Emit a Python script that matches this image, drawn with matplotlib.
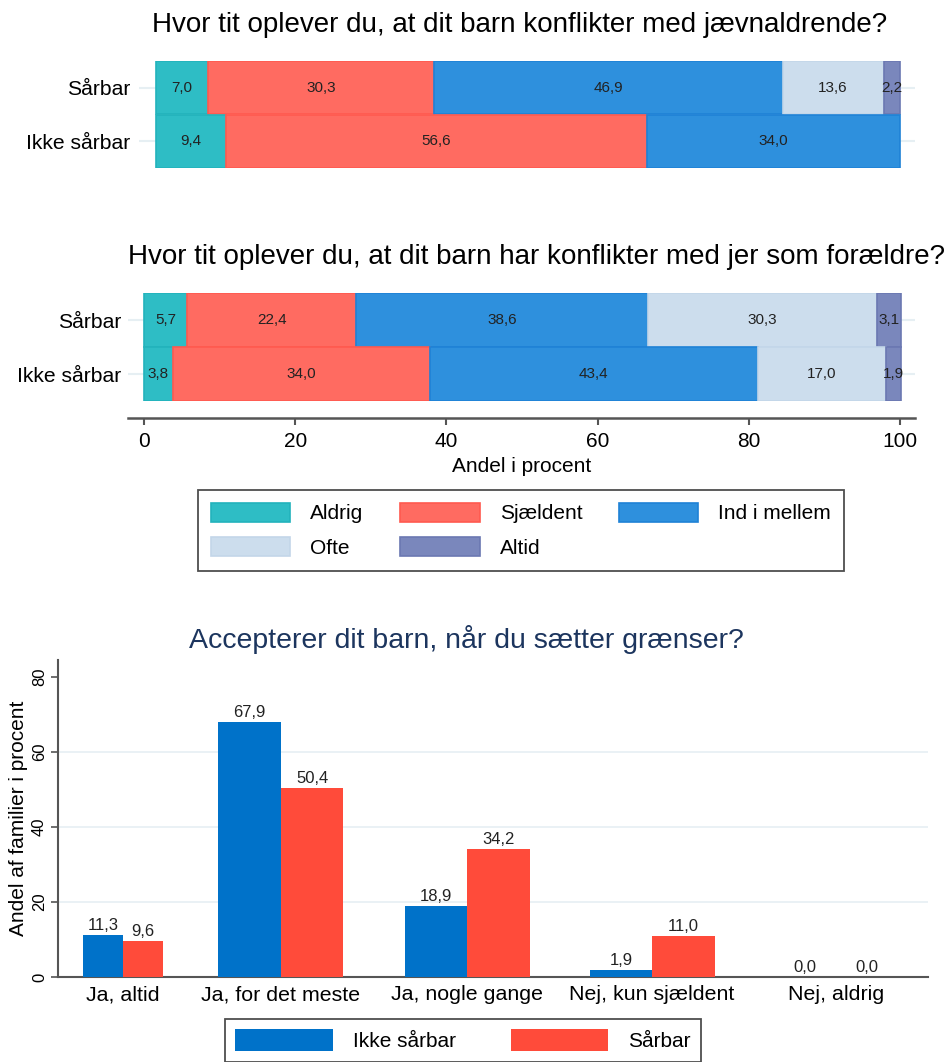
import matplotlib
matplotlib.use("Agg")
import matplotlib.pyplot as plt
import numpy as np

plt.rcParams['font.family'] = ['Liberation Sans', 'DejaVu Sans']

# ---------------- data ----------------
groups = ["Sårbar", "Ikke sårbar"]
categories = ["Aldrig", "Sjældent", "Ind i mellem", "Ofte", "Altid"]

title1 = "Hvor tit oplever du, at dit barn konflikter med jævnaldrende?"
p1_sarbar = [7.0, 30.3, 46.9, 13.6, 2.2]
p1_ikke = [9.4, 56.6, 34.0, 0.0, 0.0]

title2 = "Hvor tit oplever du, at dit barn har konflikter med jer som forældre?"
p2_sarbar = [5.7, 22.4, 38.6, 30.3, 3.1]
p2_ikke = [3.8, 34.0, 43.4, 17.0, 1.9]

title3 = "Accepterer dit barn, når du sætter grænser?"
answers = ["Ja, altid", "Ja, for det meste", "Ja, nogle gange", "Nej, kun sjældent", "Nej, aldrig"]
p3_ikke = [11.3, 67.9, 18.9, 1.9, 0.0]
p3_sarbar = [9.6, 50.4, 34.2, 11.0, 0.0]
p3_series = ["Ikke sårbar", "Sårbar"]

xticks2 = [0, 20, 40, 60, 80, 100]
yticks3 = [0, 20, 40, 60, 80]

# ---------------- style ----------------
fills = ["#2EBDC5", "#FF6B61", "#2E90DD", "#CCDDED", "#7A87BC"]
edges = ["#22B3BC", "#FF5A4F", "#1F82D6", "#C3D6E9", "#6B78B2"]
blue3 = "#0072C9"
red3 = "#FF4B3A"
grid_col = "#E6EFF3"
axis_col = "#555555"

W, H = 949, 1062
fig = plt.figure(figsize=(W / 100, H / 100), dpi=100)


def box(l, t, r, b):
    return [l / W, 1 - b / H, (r - l) / W, (b - t) / H]


def fmt(v):
    return f"{v:.1f}".replace(".", ",")


def stacked(ax, rows, xlim, pad):
    ypos = [1, 0]
    for yi, vals in zip(ypos, rows):
        left = 0.0
        for i, v in enumerate(vals):
            if v > 0:
                ax.barh(yi, v, left=left, height=0.99, color=fills[i],
                        edgecolor=edges[i], linewidth=1.2, zorder=3)
                ax.text(left + v / 2, yi, fmt(v), ha="center", va="center",
                        fontsize=11, color="#222222", zorder=4)
            left += v
    ax.set_xlim(*xlim)
    ax.set_ylim(-0.5, 1.5)
    ax.set_yticks(ypos)
    ax.set_yticklabels(groups, fontsize=15.2)
    ax.tick_params(axis="y", length=0, pad=pad)
    for yi in ypos:
        ax.axhline(yi, color=grid_col, lw=1.5, zorder=1)
    for s in ["top", "right", "left"]:
        ax.spines[s].set_visible(False)


# Panel 1
ax1 = fig.add_axes(box(139, 61, 915, 168))
stacked(ax1, [p1_sarbar, p1_ikke], (-2.3, 102.0), 6)
ax1.spines["bottom"].set_visible(False)
ax1.set_xticks([])
fig.text(520 / W, 1 - 25 / H, title1, ha="center", va="center", fontsize=20, color="black")

# Panel 2
ax2 = fig.add_axes(box(128, 293, 915, 401))
stacked(ax2, [p2_sarbar, p2_ikke], (-2.12, 102.0), 5)
ax2.spines["bottom"].set_position(("outward", 12.5))
ax2.spines["bottom"].set_color(axis_col)
ax2.spines["bottom"].set_linewidth(1.8)
ax2.set_xticks(xticks2)
ax2.set_xticklabels([str(t) for t in xticks2], fontsize=15)
ax2.tick_params(axis="x", length=5, width=1.5, color=axis_col, pad=5)
ax2.set_xlabel("Andel i procent", fontsize=15, labelpad=4)
fig.text(536 / W, 1 - 257 / H, title2, ha="center", va="center", fontsize=20, color="black")

handles = [plt.Rectangle((0, 0), 1, 1, facecolor=fills[i], edgecolor=edges[i], lw=1.2)
           for i in range(5)]
order = [0, 3, 1, 4, 2]
leg1 = fig.legend([handles[i] for i in order], [categories[i] for i in order],
                  loc="upper left", bbox_to_anchor=(198 / W, 1 - 490 / H),
                  ncol=3, fontsize=15, frameon=True, fancybox=False,
                  edgecolor="#222222", borderaxespad=0, borderpad=0.62,
                  handlelength=3.8, handleheight=1.0, handletextpad=0.96,
                  columnspacing=1.78, labelspacing=0.67)
leg1.get_frame().set_linewidth(1.3)

# Panel 3
ax3 = fig.add_axes(box(58, 660, 928, 977))
xpos = np.array([0.146, 1.0, 2.006, 3.006, 4.0])
widths = np.array([0.216, 0.338, 0.338, 0.338, 0.338])
b1 = ax3.bar(xpos - widths / 2, p3_ikke, width=widths, color=blue3, zorder=3,
             label=p3_series[0])
b2 = ax3.bar(xpos + widths / 2, p3_sarbar, width=widths, color=red3, zorder=3,
             label=p3_series[1])
for bars, vals in [(b1, p3_ikke), (b2, p3_sarbar)]:
    ax3.bar_label(bars, labels=[fmt(v) for v in vals], padding=1.5, fontsize=12,
                  color="#222222")
ax3.set_xlim(-0.205, 4.497)
ax3.set_ylim(0, 84.5)
ax3.set_yticks(yticks3)
ax3.set_yticklabels([str(t) for t in yticks3], rotation=90, va="center", fontsize=12)
ax3.tick_params(axis="y", length=5, width=1.2, color=axis_col, pad=3)
ax3.set_xticks(xpos)
ax3.set_xticklabels(answers, fontsize=15.4)
ax3.tick_params(axis="x", length=0, pad=6)
for g in [20, 40, 60]:
    ax3.axhline(g, color=grid_col, lw=1.2, zorder=1)
for s in ["top", "right"]:
    ax3.spines[s].set_visible(False)
for s in ["left", "bottom"]:
    ax3.spines[s].set_color(axis_col)
    ax3.spines[s].set_linewidth(1.5)
ax3.set_ylabel("Andel af familier i procent", fontsize=15, labelpad=3)
fig.text(466 / W, 1 - 640 / H, title3, ha="center", va="center", fontsize=20.5,
         color="#1C355E")

leg2 = fig.legend(handles=[b1, b2], labels=p3_series, loc="upper left",
                  bbox_to_anchor=(225 / W, 1 - 1019 / H), ncol=2, fontsize=15,
                  frameon=True, fancybox=False, edgecolor="#222222",
                  borderaxespad=0, borderpad=0.5, handlelength=4.66,
                  handleheight=1.25, handletextpad=1.0, columnspacing=2.6)
leg2.get_frame().set_linewidth(1.3)

fig.savefig("out.png", dpi=100)
